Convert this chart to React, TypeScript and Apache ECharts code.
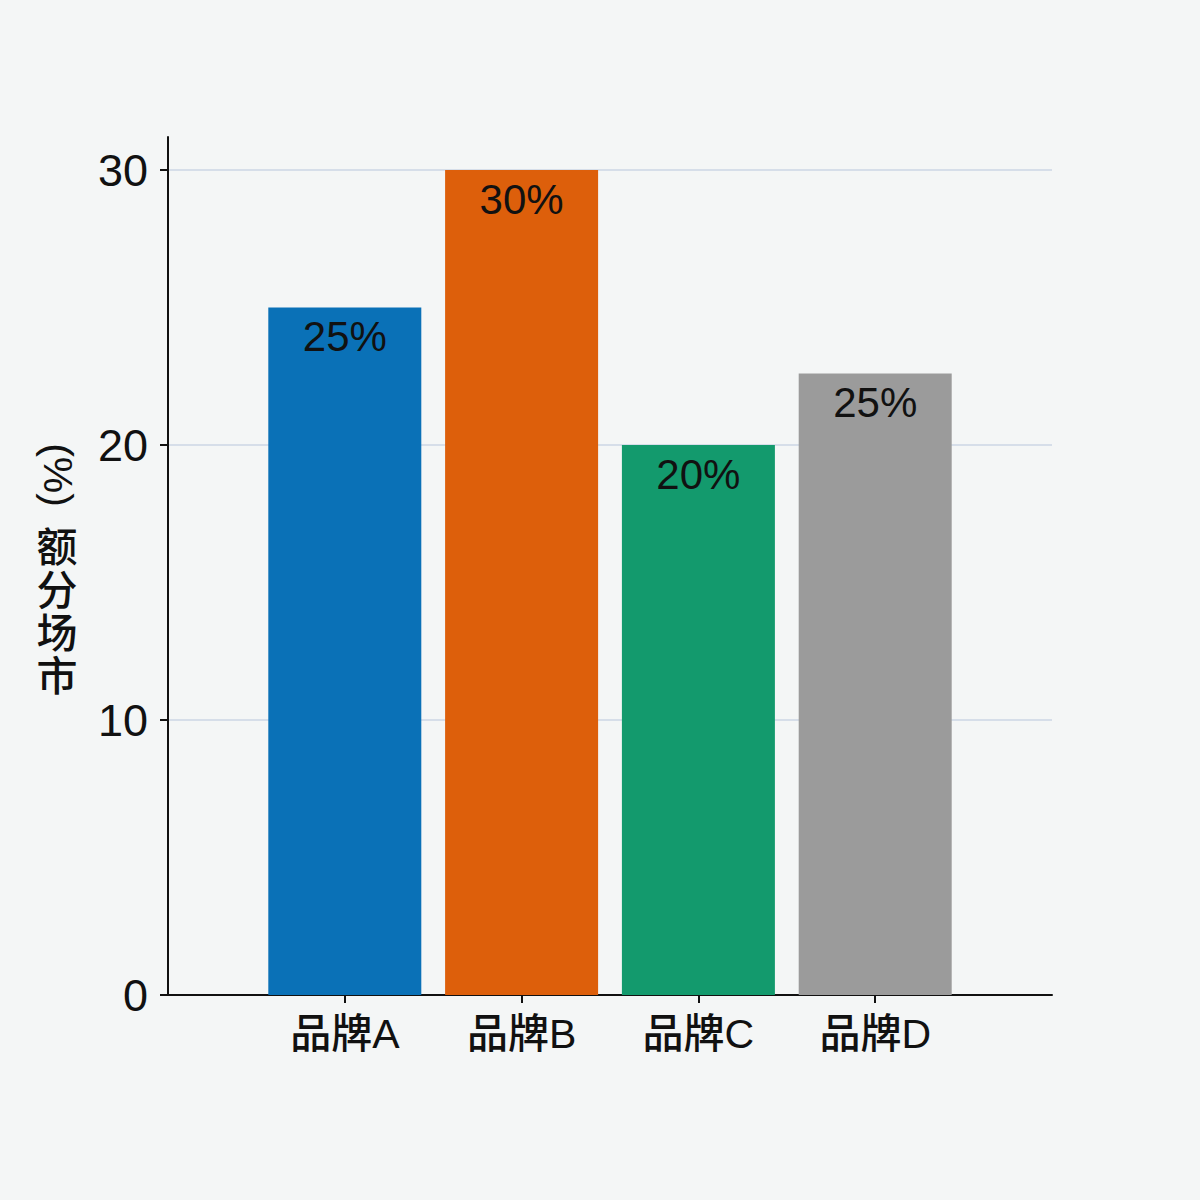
import React, { useEffect, useRef } from 'react';
import * as echarts from 'echarts';

// 品牌市场份额数据
const brands = ['品牌A', '品牌B', '品牌C', '品牌D'];
const shares = [25, 30, 20, 22.6];
const shareLabels = ['25%', '30%', '20%', '25%'];
const barColors = ['#0a71b7', '#dd5f0b', '#139a6d', '#9b9b9b'];
const yTicks = [0, 10, 20, 30];

const FONT = '"Liberation Sans", Arial, "Noto Sans CJK SC", sans-serif';
const CJK_FONT = '"Liberation Sans", "Noto Sans CJK SC", sans-serif';

// 两端留空类目，让柱子落在刻度点上
const axisCategories = ['', ...brands, ''];

const App: React.FC = () => {
  const chartRef = useRef<HTMLDivElement>(null);

  useEffect(() => {
    if (!chartRef.current) return;
    const chart = echarts.init(chartRef.current, undefined, { renderer: 'svg' });

    const seriesData: any[] = [
      null,
      ...shares.map((v, i) => ({ value: v, itemStyle: { color: barColors[i] } })),
      null
    ];

    const option: echarts.EChartsOption = {
      animation: false,
      backgroundColor: '#f4f6f6',
      grid: {
        left: 168,
        right: 148,
        top: 137,
        bottom: 205
      },
      xAxis: {
        type: 'category',
        data: axisCategories,
        boundaryGap: false,
        axisLine: { lineStyle: { color: '#111', width: 2 } },
        axisTick: {
          show: true,
          length: 8,
          interval: (index: number, value: string) => value !== '',
          lineStyle: { color: '#111', width: 2 }
        },
        axisLabel: {
          interval: 0,
          fontSize: 41,
          fontWeight: 500,
          color: '#111',
          fontFamily: CJK_FONT,
          margin: 18
        },
        splitLine: { show: false }
      },
      yAxis: {
        type: 'value',
        min: 0,
        max: 31.2,
        interval: 10,
        axisLine: { show: true, lineStyle: { color: '#111', width: 2 } },
        axisTick: {
          show: true,
          length: 8,
          customValues: yTicks,
          lineStyle: { color: '#111', width: 2 }
        },
        axisLabel: {
          customValues: yTicks,
          fontSize: 45,
          color: '#111',
          fontFamily: FONT,
          margin: 20
        },
        splitLine: {
          show: true,
          lineStyle: { color: '#cdd6e4', width: 1.5 }
        }
      },
      graphic: [
        {
          type: 'text',
          x: 58,
          y: 475,
          rotation: -Math.PI / 2,
          style: {
            text: '(%)',
            fontSize: 41,
            fontFamily: FONT,
            fill: '#111',
            align: 'center',
            verticalAlign: 'middle'
          }
        },
        {
          type: 'text',
          x: 57,
          y: 612,
          style: {
            text: '额\n分\n场\n市',
            fontSize: 41,
            fontWeight: 500,
            lineHeight: 43,
            fontFamily: CJK_FONT,
            fill: '#111',
            align: 'center',
            verticalAlign: 'middle'
          }
        }
      ],
      series: [
        {
          type: 'bar',
          data: seriesData,
          barWidth: 153,
          label: {
            show: true,
            position: 'insideTop',
            distance: 8,
            fontSize: 42,
            color: '#111',
            fontFamily: FONT,
            formatter: (p: any) => shareLabels[p.dataIndex - 1] ?? ''
          }
        }
      ]
    };

    chart.setOption(option);
    return () => chart.dispose();
  }, []);

  return (
    <div
      ref={chartRef}
      style={{ position: 'absolute', left: 0, top: 0, width: 1200, height: 1200 }}
    />
  );
};

export default App;
